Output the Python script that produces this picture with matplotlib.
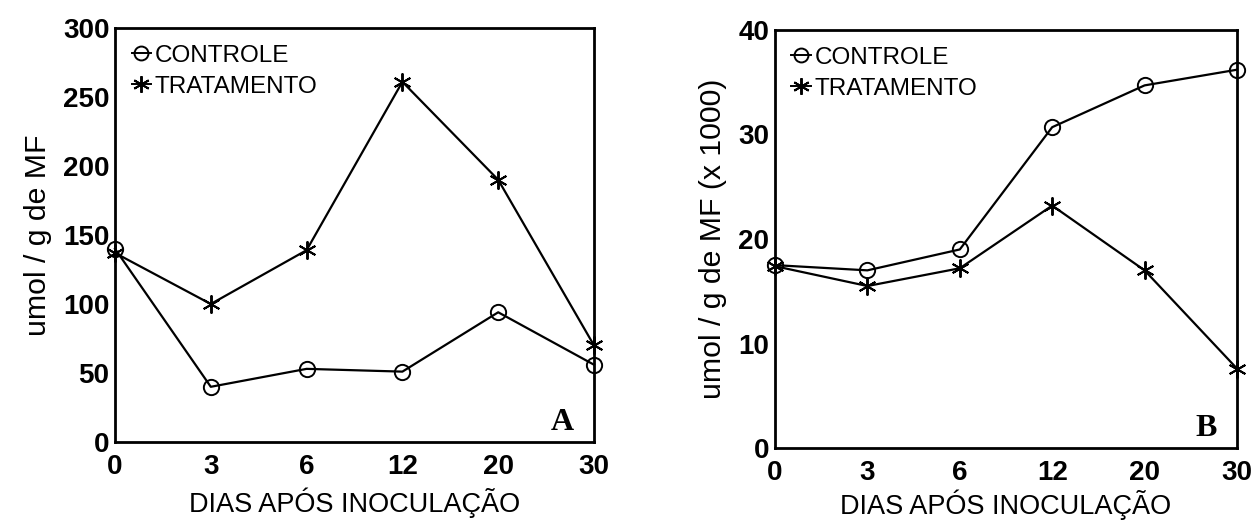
import matplotlib
matplotlib.use("Agg")
import matplotlib.pyplot as plt
from matplotlib.lines import Line2D

plt.rcParams['font.family'] = ['Liberation Sans', 'DejaVu Sans']

days = ["0", "3", "6", "12", "20", "30"]
a_controle = [140, 40, 53, 51, 94, 56]
a_tratamento = [137, 100, 139, 261, 190, 70]
b_controle = [17.5, 17.0, 19.0, 30.7, 34.7, 36.2]
b_tratamento = [17.4, 15.5, 17.2, 23.2, 17.0, 7.6]

W, H = 1254, 523
fig = plt.figure(figsize=(W / 100, H / 100), dpi=100)

def px_axes(x0, x1, y0, y1):
    return fig.add_axes([x0 / W, 1 - y1 / H, (x1 - x0) / W, (y1 - y0) / H])

axA = px_axes(115, 594, 28, 442)
axB = px_axes(775, 1237, 30, 448)

star = (6, 2, 0)

def draw(ax, ctrl, trat, ymax, yticks, ylabel, letter, xlabelpad):
    x = list(range(len(days)))
    ax.plot(x, ctrl, color='black', lw=1.6, marker='o', ms=11, mfc='none', mec='black', mew=1.4, clip_on=False)
    ax.plot(x, trat, color='black', lw=1.6, marker=star, ms=13, mew=1.4, clip_on=False)
    ax.set_xlim(0, len(days) - 1)
    ax.set_ylim(0, ymax)
    ax.set_xticks(x)
    ax.set_xticklabels(days)
    ax.set_yticks(yticks)
    ax.tick_params(length=0, labelsize=20)
    ax.tick_params(axis='x', pad=9)
    ax.tick_params(axis='y', pad=4)
    for lab in ax.get_xticklabels() + ax.get_yticklabels():
        lab.set_fontweight('bold')
    for s in ax.spines.values():
        s.set_linewidth(2)
    ax.set_xlabel("DIAS APÓS INOCULAÇÃO", fontsize=19.5, labelpad=xlabelpad)
    ax.set_ylabel(ylabel, fontsize=21.8, labelpad=8)
    ax.text(0.957, 0.012, letter, transform=ax.transAxes, ha='right', va='bottom',
            fontsize=23, fontweight='bold', family='Liberation Serif')
    handles = [Line2D([], [], color='black', lw=1.4, marker='o', ms=10, mfc='none', mew=1.4),
               Line2D([], [], color='black', lw=1.4, marker=star, ms=12, mew=1.4)]
    ax.legend(handles, ["CONTROLE", "TRATAMENTO"], loc='upper left', frameon=False,
              fontsize=17.5, handlelength=0.8, handletextpad=0.15, labelspacing=0.38,
              borderaxespad=0.0, borderpad=0.0, bbox_to_anchor=(0.035, 0.96))

draw(axA, a_controle, a_tratamento, 300, [0, 50, 100, 150, 200, 250, 300], "umol / g de MF", "A", 5)
draw(axB, b_controle, b_tratamento, 40, [0, 10, 20, 30, 40], "umol / g de MF (x 1000)", "B", 2)

fig.savefig("out.png", dpi=100)
